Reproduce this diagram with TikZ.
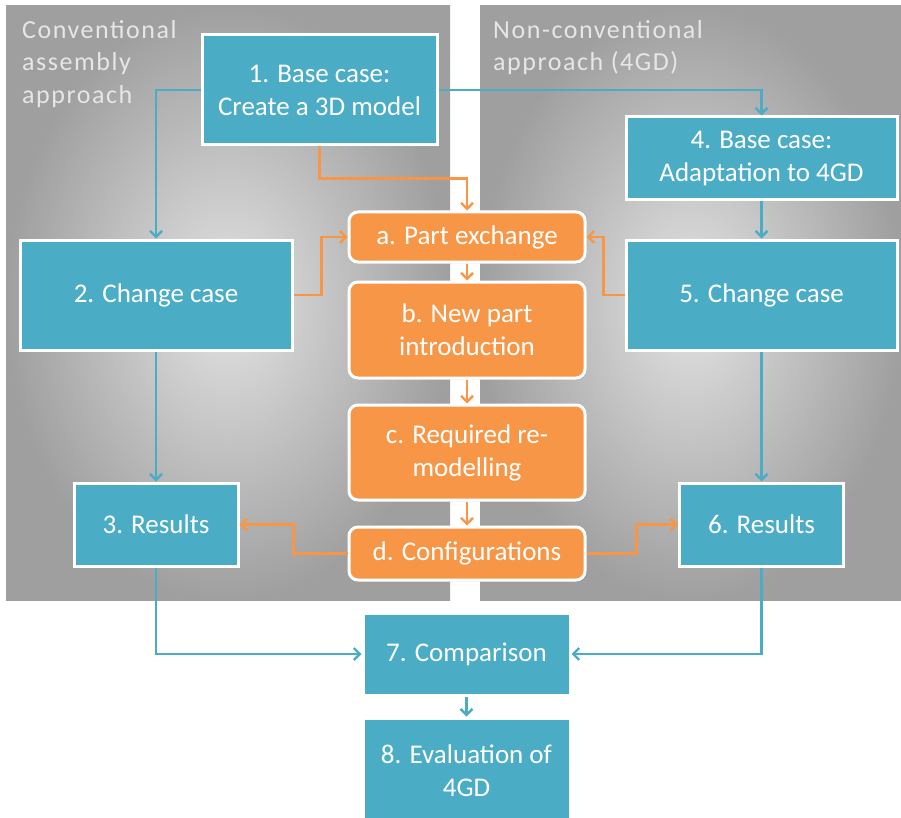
\documentclass[tikz,border=0pt]{standalone}
\usepackage{fontspec}
\setmainfont{Carlito}
\usetikzlibrary{arrows.meta,shadows}
\definecolor{tealc}{HTML}{4BACC6}
\definecolor{orangec}{HTML}{F79646}
\definecolor{panellabel}{HTML}{E6E6E6}
\tikzset{
  boxbase/.style={draw=white, line width=3pt, text=white, align=center,
    inner sep=2pt, font=\fontsize{27}{33}\selectfont,
    drop shadow={shadow xshift=1.5pt, shadow yshift=-1.5pt, opacity=0.3}},
  tealbox/.style={boxbase, fill=tealc},
  orangebox/.style={boxbase, fill=orangec, rounded corners=9pt},
  tealarrow/.style={draw=tealc, line width=2.4pt, -{Straight Barb[length=6pt,width=12pt]}},
  orangearrow/.style={draw=orangec, line width=2.4pt, -{Straight Barb[length=6pt,width=12pt]}},
  panel/.style={inner color=gray!22, outer color=gray!75},
  panellbl/.style={text=panellabel, align=left, anchor=north west, inner sep=0pt,
    font=\fontsize{26}{32.5}\selectfont\addfontfeatures{LetterSpace=6}}
}
\begin{document}
\begin{tikzpicture}[x=1pt,y=-1pt]
\useasboundingbox (0,0) rectangle (901,818);
\clip (0,0) rectangle (901,818);
\fill[white] (0,0) rectangle (901,818);
% panels
\shade[panel] (6,6) rectangle (450,600);
\shade[panel] (480,6) rectangle (901,600);
\node[panellbl] (lblL) at (22,20) {Conventional\\assembly\\approach};
\node[panellbl] (lblR) at (493,20) {Non-conventional\\approach (4GD)};
% teal boxes
\node[tealbox, minimum width=235pt, minimum height=110pt] (n1) at (319.5,90) {1. Base case:\\Create a 3D model};
\node[tealbox, minimum width=271pt, minimum height=83pt] (n4) at (761.5,158.5) {4. Base case:\\Adaptation to 4GD};
\node[tealbox, minimum width=272pt, minimum height=110pt] (n2) at (156,295) {2. Change case};
\node[tealbox, minimum width=271pt, minimum height=110pt] (n5) at (761.5,295) {5. Change case};
\node[tealbox, minimum width=164pt, minimum height=83pt] (n3) at (156,524.5) {3. Results};
\node[tealbox, minimum width=164pt, minimum height=83pt] (n6) at (761.5,524.5) {6. Results};
\node[tealbox, minimum width=207pt, minimum height=82pt] (n7) at (466.5,654) {7. Comparison};
\node[tealbox, minimum width=207pt, minimum height=106pt] (n8) at (466.5,771) {8. Evaluation of\\4GD};
% orange boxes
\node[orangebox, minimum width=236pt, minimum height=50pt] (a) at (467,237) {a. Part exchange};
\node[orangebox, minimum width=236pt, minimum height=96pt] (b) at (467,330) {b. New part\\introduction};
\node[orangebox, minimum width=236pt, minimum height=95pt] (c) at (467,452.5) {c. Required re-\\modelling};
\node[orangebox, minimum width=236pt, minimum height=53pt] (d) at (467,553.5) {d. Configurations};
% teal connectors
\draw[tealarrow] (n1.west) -| (n2.north);
\draw[tealarrow] (n1.east) -| (n4.north);
\draw[tealarrow] (n4.south) -- (n5.north);
\draw[tealarrow] (n2.south) -- (n3.north);
\draw[tealarrow] (n5.south) -- (n6.north);
\draw[tealarrow] (n3.south) |- (n7.west);
\draw[tealarrow] (n6.south) |- (n7.east);
\draw[tealarrow] (n7.south) -- (n8.north);
% orange connectors
\draw[orangearrow] (n1.south) -- ++(0,32) -| (a.north);
\draw[orangearrow] (n2.east) -- ++(28,0) |- (a.west);
\draw[orangearrow] (n5.west) -- ++(-21,0) |- (a.east);
\draw[orangearrow] (a.south) -- (b.north);
\draw[orangearrow] (b.south) -- (c.north);
\draw[orangearrow] (c.south) -- (d.north);
\draw[orangearrow] (d.west) -- ++(-54,0) |- (n3.east);
\draw[orangearrow] (d.east) -- ++(50,0) |- (n6.west);
\end{tikzpicture}
\end{document}
